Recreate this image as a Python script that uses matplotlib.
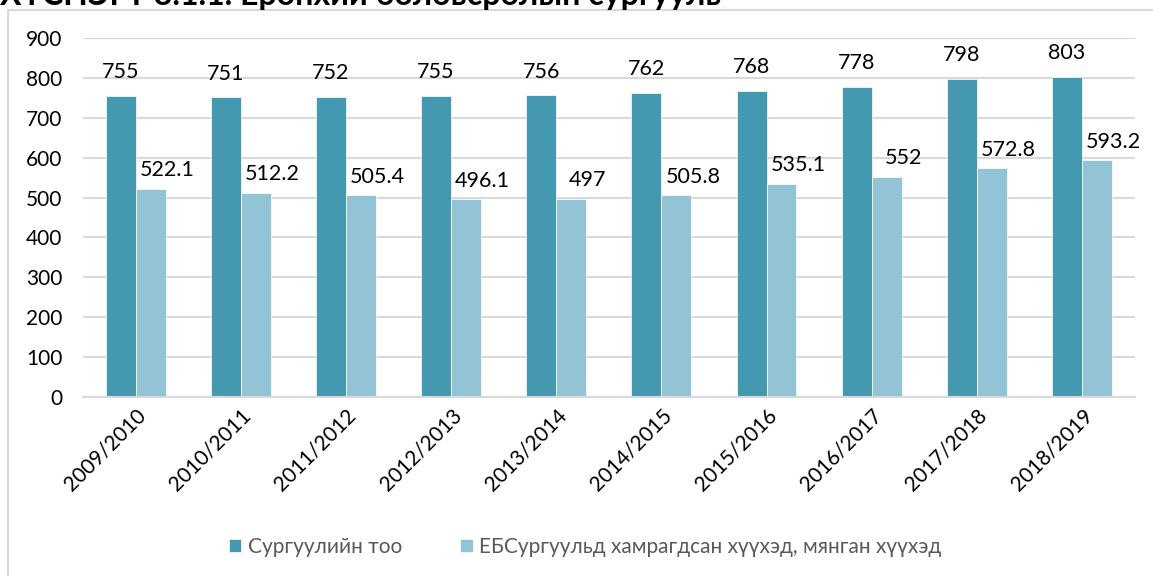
"""
Ерөнхий боловсролын сургууль: сургуулийн тоо ба хамрагдсан хүүхэд
"""

import matplotlib.pyplot as plt
import numpy as np
from matplotlib.patches import Rectangle

plt.rcParams["font.family"] = ["Lato", "DejaVu Sans"]

years = ["2009/2010", "2010/2011", "2011/2012", "2012/2013", "2013/2014",
         "2014/2015", "2015/2016", "2016/2017", "2017/2018", "2018/2019"]
schools = [755, 751, 752, 755, 756, 762, 768, 778, 798, 803]
pupils = [522.1, 512.2, 505.4, 496.1, 497, 505.8, 535.1, 552, 572.8, 593.2]
labels = ["Сургуулийн тоо", "ЕБСургуульд хамрагдсан хүүхэд, мянган хүүхэд"]
title = "ХҮСНЭГТ 8.1.1. Ерөнхий боловсролын сургууль"

dark = "#4499b1"
light = "#93c4d6"

fig = plt.figure(figsize=(11.53, 5.76), dpi=100)
ax = fig.add_axes([0.072, 0.311, 0.912, 0.623])

# outer chart frame (cut by the image edge like the original)
fig.patches.append(Rectangle((8 / 1153, -0.1), 1.2, 1.1 - 10 / 576,
                             transform=fig.transFigure, fill=False,
                             edgecolor="#d9d9d9", linewidth=1.5))
fig.text(0.0, 1 - 5 / 576, title, fontsize=23, fontweight="bold",
         va="baseline", ha="left")

x = np.arange(len(years))
w = 0.285
b1 = ax.bar(x - w / 2, schools, w, color=dark, edgecolor="white", linewidth=0.5, label=labels[0])
b2 = ax.bar(x + w / 2, pupils, w, color=light, edgecolor="white", linewidth=0.5, label=labels[1])

for rect, v in zip(b1, schools):
    ax.annotate(f"{v:g}", (rect.get_x() + rect.get_width() / 2, v),
                xytext=(0, 10), textcoords="offset points",
                ha="center", va="bottom", fontsize=15.5)
for rect, v in zip(b2, pupils):
    ax.annotate(f"{v:g}", (rect.get_x() + rect.get_width() / 2, v),
                xytext=(12, 6), textcoords="offset points",
                ha="center", va="bottom", fontsize=15.5)

ax.set_xlim(-0.5, len(years) - 0.5)
ax.set_ylim(0, 900)
ax.set_yticks(range(0, 901, 100))
ax.grid(axis="y", color="#d9d9d9", linewidth=1.5)
ax.set_axisbelow(True)
for s in ["top", "right", "left"]:
    ax.spines[s].set_visible(False)
ax.spines["bottom"].set_color("#d9d9d9")
ax.spines["bottom"].set_linewidth(1.5)
ax.tick_params(axis="y", length=0, labelsize=15, pad=15)
ax.tick_params(axis="x", length=0, labelsize=15, pad=6)
ax.set_xticks(x)
ax.set_xticklabels(years, rotation=45, ha="right", rotation_mode="anchor")

fig.legend(loc="center", bbox_to_anchor=(585 / 1153, 1 - 547 / 576), ncol=2,
           frameon=False, fontsize=15, labelcolor="#595959",
           handlelength=0.6, handleheight=0.6, handletextpad=0.3,
           columnspacing=2.8)

fig.savefig("out.png", dpi=100)
